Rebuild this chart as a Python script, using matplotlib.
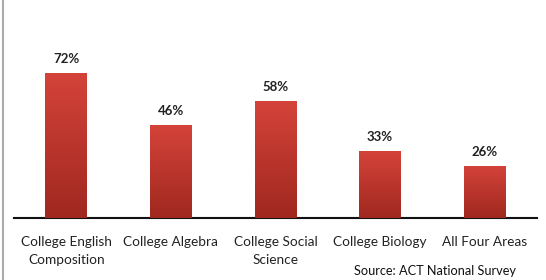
import matplotlib
matplotlib.use("Agg")
import matplotlib.pyplot as plt
import numpy as np
from matplotlib.colors import LinearSegmentedColormap
from matplotlib.lines import Line2D

categories = ["College English\nComposition", "College Algebra", "College Social\nScience",
              "College Biology", "All Four Areas"]
values = [72, 46, 58, 33, 26]
value_labels = ["72%", "46%", "58%", "33%", "26%"]
source = "Source: ACT National Survey"

plt.rcParams['font.family'] = ['Lato', 'DejaVu Sans']

fig = plt.figure(figsize=(5.46, 2.8), dpi=100)
ax = fig.add_axes([0.0256, 0.221, 0.958, 0.779])
x = np.arange(len(values))
bars = ax.bar(x, values, width=0.4, color='#b83228', zorder=2)
ax.set_xlim(-0.5, len(values) - 0.5)
ax.set_ylim(0, 108)

cmap = LinearSegmentedColormap.from_list('g', ['#a0281f', '#d4433a'])
grad = np.linspace(0, 1, 256).reshape(-1, 1)
for b in bars:
    x0, y0 = b.get_x(), b.get_y()
    w, h = b.get_width(), b.get_height()
    im = ax.imshow(grad, extent=[x0, x0 + w, y0, y0 + h], origin='lower',
                   cmap=cmap, aspect='auto', zorder=3)
    im.set_clip_path(b)

for xi, v, lab in zip(x, values, value_labels):
    ax.text(xi, v + 4, lab, ha='center', va='bottom', fontsize=9.5,
            fontweight='bold', color='#222222')

for s in ['top', 'right', 'left']:
    ax.spines[s].set_visible(False)
ax.spines['bottom'].set_linewidth(1.5)
ax.spines['bottom'].set_color('#111111')
ax.set_yticks([])
ax.set_xticks(x)
ax.set_xticklabels(categories, fontsize=9.8, color='#222222', linespacing=1.55)
ax.tick_params(axis='x', length=0, pad=13)

fig.text(0.797, 0.032, source, ha='center', va='center', fontsize=9.2, color='#111111')
fig.add_artist(Line2D([0.005, 0.005], [0, 1], color='#aaaaaa', lw=1.5,
                      transform=fig.transFigure))

fig.savefig("out.png", dpi=100)
